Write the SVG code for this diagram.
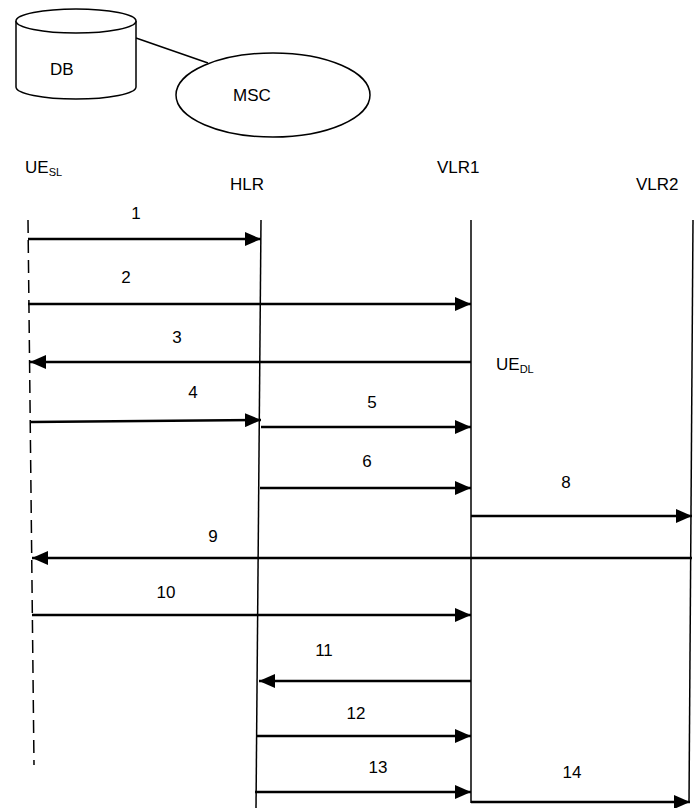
<svg xmlns="http://www.w3.org/2000/svg" width="700" height="808" viewBox="0 0 700 808">
<defs>
<marker id="ah" markerUnits="userSpaceOnUse" markerWidth="18" markerHeight="14" refX="16" refY="7" orient="auto">
<path d="M0,0 L16,7 L0,14 Z" fill="#000"/>
</marker>
<style>
text{font-family:"Liberation Sans",Arial,sans-serif;font-size:17px;fill:#000}
.sub{font-size:11px}
.shape{fill:#fff;stroke:#000;stroke-width:1.5}
.life{stroke:#000;stroke-width:1.5;fill:none}
.msg{stroke:#000;stroke-width:2.5;fill:none;marker-end:url(#ah)}
.lbl{text-anchor:middle}
</style>
</defs>
<rect width="700" height="808" fill="#fff"/>

<g id="db-msc-link"><line x1="136" y1="38" x2="208" y2="63" stroke="#000" stroke-width="1.5"/></g>
<g id="DB">
<path class="shape" d="M16,21 L16,87 A60,12 0 0 0 136,87 L136,21"/>
<ellipse class="shape" cx="76" cy="21" rx="60" ry="12"/>
<text x="50" y="75">DB</text>
</g>
<g id="MSC">
<ellipse class="shape" cx="273" cy="95" rx="97" ry="42"/>
<text x="233" y="101">MSC</text>
</g>

<g id="UE_SL">
<text x="25" y="173">UE<tspan class="sub" dy="3">SL</tspan></text>
<line class="life" x1="28" y1="220" x2="34" y2="765" stroke-dasharray="13 7"/>
</g>
<g id="HLR">
<text x="230" y="190">HLR</text>
<line class="life" x1="261" y1="220" x2="256" y2="808"/>
</g>
<g id="VLR1">
<text x="437" y="173">VLR1</text>
<line class="life" x1="471" y1="220" x2="471" y2="803"/>
<text x="496" y="370">UE<tspan class="sub" dy="3">DL</tspan></text>
</g>
<g id="VLR2">
<text x="636" y="190">VLR2</text>
<line class="life" x1="693" y1="220" x2="689" y2="803"/>
</g>

<g id="connectors">
<line class="msg" x1="28" y1="239" x2="261" y2="239"/>
<line class="msg" x1="28" y1="304" x2="471" y2="304"/>
<line class="msg" x1="471" y1="362" x2="30" y2="362"/>
<line class="msg" x1="31" y1="422" x2="261" y2="420"/>
<line class="msg" x1="261" y1="427" x2="471" y2="427"/>
<line class="msg" x1="260" y1="488" x2="471" y2="488"/>
<line class="msg" x1="471" y1="516" x2="692" y2="516"/>
<line class="msg" x1="692" y1="558" x2="32" y2="558"/>
<line class="msg" x1="32" y1="615" x2="471" y2="615"/>
<line class="msg" x1="471" y1="681" x2="259" y2="681"/>
<line class="msg" x1="257" y1="736" x2="471" y2="736"/>
<line class="msg" x1="255" y1="792" x2="471" y2="792"/>
<line class="msg" x1="471" y1="802" x2="690" y2="802"/>
<text class="lbl" x="136" y="219">1</text>
<text class="lbl" x="126" y="283">2</text>
<text class="lbl" x="177" y="343">3</text>
<text class="lbl" x="193" y="398">4</text>
<text class="lbl" x="372" y="408">5</text>
<text class="lbl" x="367" y="467">6</text>
<text class="lbl" x="566" y="488">8</text>
<text class="lbl" x="213" y="542">9</text>
<text class="lbl" x="166" y="598">10</text>
<text class="lbl" x="324" y="656">11</text>
<text class="lbl" x="356" y="719">12</text>
<text class="lbl" x="378" y="773">13</text>
<text class="lbl" x="572" y="778">14</text>
</g>
</svg>
